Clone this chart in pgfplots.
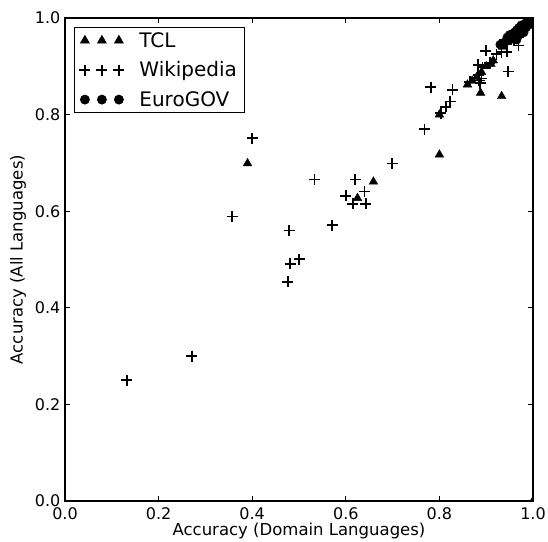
\documentclass[border=0pt]{standalone}
\usepackage{fontspec}
\setmainfont{DejaVu Sans}
\usepackage{pgfplots}
\pgfplotsset{compat=1.18}
\pgfplotsset{threemarks/.style={legend image code/.code={\draw[##1] plot[only marks] coordinates {(0pt,0pt) (17pt,0pt) (34pt,0pt)};}}}
\begin{document}
\begin{tikzpicture}
\path[use as bounding box] (-65pt,-40pt) rectangle (483pt,501pt);
\begin{axis}[
  scale only axis, width=468pt, height=483pt,
  xmin=0, xmax=1, ymin=0, ymax=1,
  xtick={0,0.2,0.4,0.6,0.8,1}, ytick={0,0.2,0.4,0.6,0.8,1},
  xtick pos=both, ytick pos=both,
  tick align=inside, major tick length=5pt,
  tick style={black, line width=0.8pt},
  axis line style={line width=1.2pt},
  /pgf/number format/fixed, /pgf/number format/fixed zerofill,
  /pgf/number format/precision=1, /pgf/number format/assume math mode=true,
  every tick label/.append style={font=\fontsize{16}{19}\selectfont},
  xticklabel style={anchor=base, yshift=-18pt},
  yticklabel style={anchor=east, inner sep=0pt, xshift=-4.5pt},
  xlabel={Accuracy (Domain Languages)},
  ylabel={Accuracy (All Languages)},
  label style={font=\fontsize{16.5}{19}\selectfont},
  xlabel style={at={(axis description cs:0.5,-0.0704)}, anchor=base},
  ylabel style={at={(axis description cs:-0.1,0.5)}, anchor=center},
  legend style={at={(axis description cs:0,1)}, anchor=north west, xshift=9pt, yshift=-9pt,
    draw=black, line width=0.8pt, font=\fontsize{20}{24}\selectfont, row sep=9pt,
    inner ysep=3pt, inner xsep=5pt},
  legend cell align=left,
  clip marker paths=true,
]
\addplot[only marks, black, mark=triangle*, mark size=5pt, threemarks]
  coordinates {
  (0.390,0.699) (0.625,0.627) (0.659,0.661) (0.800,0.717) (0.800,0.800)
  (0.888,0.845) (0.933,0.838) (0.860,0.862) (0.870,0.870) (0.880,0.878)
  (0.890,0.888) (0.900,0.900) (0.910,0.905) (0.915,0.912) (0.935,0.940)
  (0.945,0.950) (0.955,0.955) (0.965,0.965) (0.975,0.970) (0.985,0.985)
  (0.990,0.990) (1.000,0.000)
  };
\addlegendentry{\hspace{13pt}TCL}
\addplot[only marks, black, mark=+, mark size=5.5pt, mark options={line width=1.6pt}, threemarks]
  coordinates {
  (0.132,0.250) (0.271,0.300) (0.357,0.589) (0.400,0.751) (0.476,0.454)
  (0.481,0.491) (0.500,0.501) (0.479,0.560) (0.533,0.666) (0.571,0.571)
  (0.600,0.632) (0.615,0.615) (0.620,0.666) (0.640,0.641) (0.643,0.615)
  (0.699,0.699) (0.768,0.770) (0.782,0.857) (0.803,0.803) (0.814,0.816)
  (0.823,0.827) (0.828,0.851) (0.865,0.868) (0.883,0.903) (0.883,0.882)
  (0.885,0.871) (0.887,0.865) (0.890,0.875) (0.892,0.898) (0.899,0.932)
  (0.908,0.907) (0.922,0.925) (0.933,0.929) (0.944,0.930) (0.947,0.889)
  (0.969,0.943) (0.940,0.955) (0.955,0.960) (0.965,0.970) (0.975,0.975)
  (0.985,0.980) (0.990,0.990) (0.995,0.995) (0.960,0.955) (0.970,0.960)
  };
\addlegendentry{\hspace{13pt}Wikipedia}
\addplot[only marks, black, mark=*, mark size=4.5pt, threemarks]
  coordinates {
  (0.930,0.945) (0.940,0.950) (0.945,0.960) (0.950,0.955) (0.950,0.965)
  (0.955,0.965) (0.960,0.960) (0.960,0.970) (0.965,0.975) (0.965,0.955)
  (0.970,0.965) (0.970,0.980) (0.975,0.975) (0.975,0.985) (0.980,0.985)
  (0.980,0.970) (0.985,0.990) (0.985,0.980) (0.990,0.995) (0.990,0.985)
  (0.995,0.990) (0.995,1.000) (1.000,0.995) (0.998,0.998)
  };
\addlegendentry{\hspace{13pt}EuroGOV}
\end{axis}
\end{tikzpicture}
\end{document}
